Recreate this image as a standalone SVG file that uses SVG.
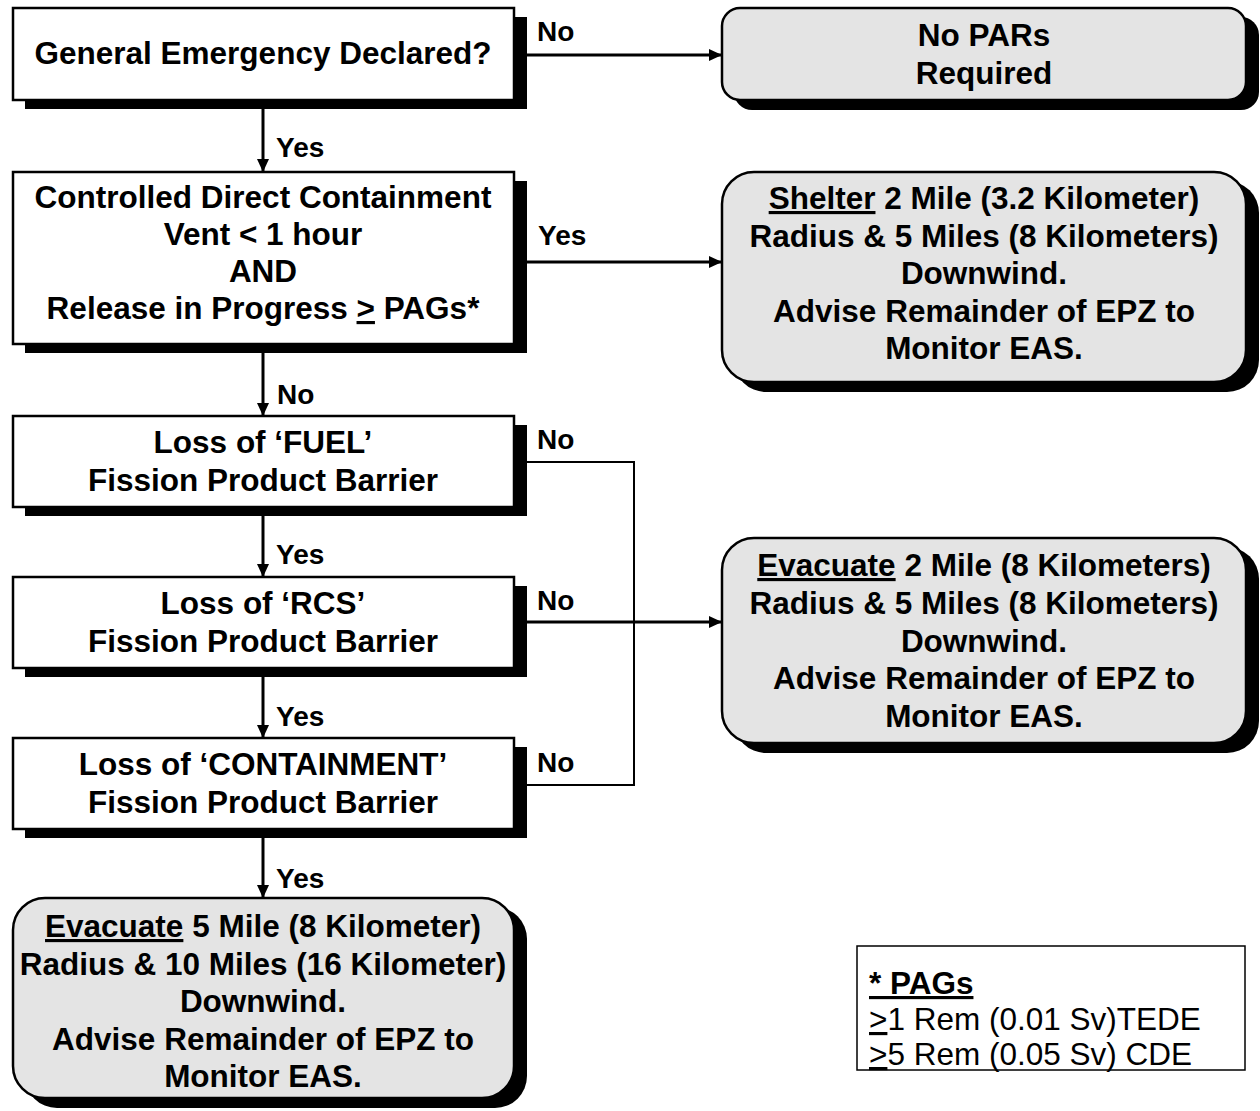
<svg xmlns="http://www.w3.org/2000/svg" width="1260" height="1111" viewBox="0 0 1260 1111">
<style>
.t{font-family:"Liberation Sans",Arial,sans-serif;font-weight:bold;font-size:31.5px;fill:#000;text-anchor:middle}
.lb{font-family:"Liberation Sans",Arial,sans-serif;font-weight:bold;font-size:28px;fill:#000}
.lg{font-family:"Liberation Sans",Arial,sans-serif;font-size:31.5px;fill:#000}
.box{fill:#fff;stroke:#000;stroke-width:2.5}
.rbox{fill:#e4e4e4;stroke:#000;stroke-width:2.5}
.sh{fill:#000}
.arr{stroke:#000;stroke-width:3;fill:none;marker-end:url(#ah)}
.ln{stroke:#000;stroke-width:2;fill:none}
.u{text-decoration:underline}
</style>
<defs>
<marker id="ah" markerUnits="userSpaceOnUse" markerWidth="13" markerHeight="12" refX="13" refY="6" orient="auto">
<path d="M0,0 L13,6 L0,12 z" fill="#000"/>
</marker>
</defs>
<rect width="1260" height="1111" fill="#fff"/>

<g id="n1">
<rect class="sh" x="25" y="17" width="502" height="92"/>
<rect class="box" x="13" y="8" width="501" height="92"/>
<text class="t" x="263" y="64">General Emergency Declared?</text>
</g>

<g id="r1">
<rect class="sh" x="734" y="17" width="525" height="93" rx="18"/>
<rect class="rbox" x="722" y="8" width="524" height="92" rx="18"/>
<text class="t" x="984" y="46">No PARs</text>
<text class="t" x="984" y="84">Required</text>
</g>

<g id="n2">
<rect class="sh" x="25" y="181" width="502" height="172"/>
<rect class="box" x="13" y="172" width="501" height="172"/>
<text class="t" x="263" y="208">Controlled Direct Containment</text>
<text class="t" x="263" y="245">Vent &lt; 1 hour</text>
<text class="t" x="263" y="282">AND</text>
<text class="t" x="263" y="319">Release in Progress <tspan class="u">&gt;</tspan> PAGs*</text>
</g>

<g id="r2">
<rect class="sh" x="734" y="181" width="525" height="211" rx="32"/>
<rect class="rbox" x="722" y="172" width="524" height="210" rx="32"/>
<text class="t" x="984" y="209"><tspan class="u">Shelter</tspan> 2 Mile (3.2 Kilometer)</text>
<text class="t" x="984" y="247">Radius &amp; 5 Miles (8 Kilometers)</text>
<text class="t" x="984" y="284">Downwind.</text>
<text class="t" x="984" y="322">Advise Remainder of EPZ to</text>
<text class="t" x="984" y="359">Monitor EAS.</text>
</g>

<g id="n3">
<rect class="sh" x="25" y="425" width="502" height="91"/>
<rect class="box" x="13" y="416" width="501" height="91"/>
<text class="t" x="263" y="453">Loss of ‘FUEL’</text>
<text class="t" x="263" y="491">Fission Product Barrier</text>
</g>

<g id="n4">
<rect class="sh" x="25" y="586" width="502" height="91"/>
<rect class="box" x="13" y="577" width="501" height="91"/>
<text class="t" x="263" y="614">Loss of ‘RCS’</text>
<text class="t" x="263" y="652">Fission Product Barrier</text>
</g>

<g id="r3">
<rect class="sh" x="734" y="547" width="525" height="206" rx="32"/>
<rect class="rbox" x="722" y="538" width="524" height="205" rx="32"/>
<text class="t" x="984" y="576"><tspan class="u">Evacuate</tspan> 2 Mile (8 Kilometers)</text>
<text class="t" x="984" y="614">Radius &amp; 5 Miles (8 Kilometers)</text>
<text class="t" x="984" y="652">Downwind.</text>
<text class="t" x="984" y="689">Advise Remainder of EPZ to</text>
<text class="t" x="984" y="727">Monitor EAS.</text>
</g>

<g id="n5">
<rect class="sh" x="25" y="747" width="502" height="91"/>
<rect class="box" x="13" y="738" width="501" height="91"/>
<text class="t" x="263" y="775">Loss of ‘CONTAINMENT’</text>
<text class="t" x="263" y="813">Fission Product Barrier</text>
</g>

<g id="r4">
<rect class="sh" x="25" y="907" width="502" height="201" rx="32"/>
<rect class="rbox" x="13" y="898" width="501" height="200" rx="32"/>
<text class="t" x="263" y="937"><tspan class="u">Evacuate</tspan> 5 Mile (8 Kilometer)</text>
<text class="t" x="263" y="975">Radius &amp; 10 Miles (16 Kilometer)</text>
<text class="t" x="263" y="1012">Downwind.</text>
<text class="t" x="263" y="1050">Advise Remainder of EPZ to</text>
<text class="t" x="263" y="1087">Monitor EAS.</text>
</g>

<g id="legend">
<rect x="857" y="946" width="388" height="124" fill="#fff" stroke="#000" stroke-width="1.5"/>
<text class="lg u" x="869" y="994" font-weight="bold">* PAGs</text>
<text class="lg" x="869" y="1030"><tspan class="u">&gt;</tspan>1 Rem (0.01 Sv)TEDE</text>
<text class="lg" x="869" y="1065"><tspan class="u">&gt;</tspan>5 Rem (0.05 Sv) CDE</text>
</g>

<g id="connectors">
<line class="arr" x1="527" y1="55" x2="722" y2="55"/>
<line class="arr" x1="263" y1="109" x2="263" y2="172"/>
<line class="arr" x1="527" y1="262" x2="722" y2="262"/>
<line class="arr" x1="263" y1="353" x2="263" y2="416"/>
<line class="arr" x1="263" y1="516" x2="263" y2="577"/>
<line class="arr" x1="527" y1="622" x2="722" y2="622"/>
<line class="arr" x1="263" y1="677" x2="263" y2="738"/>
<line class="arr" x1="263" y1="838" x2="263" y2="898"/>
<polyline class="ln" points="527,462 634,462 634,785 527,785"/>
<text class="lb" x="537" y="41">No</text>
<text class="lb" x="276" y="157">Yes</text>
<text class="lb" x="538" y="245">Yes</text>
<text class="lb" x="277" y="404">No</text>
<text class="lb" x="537" y="449">No</text>
<text class="lb" x="276" y="564">Yes</text>
<text class="lb" x="537" y="610">No</text>
<text class="lb" x="276" y="726">Yes</text>
<text class="lb" x="537" y="772">No</text>
<text class="lb" x="276" y="888">Yes</text>
</g>
</svg>
